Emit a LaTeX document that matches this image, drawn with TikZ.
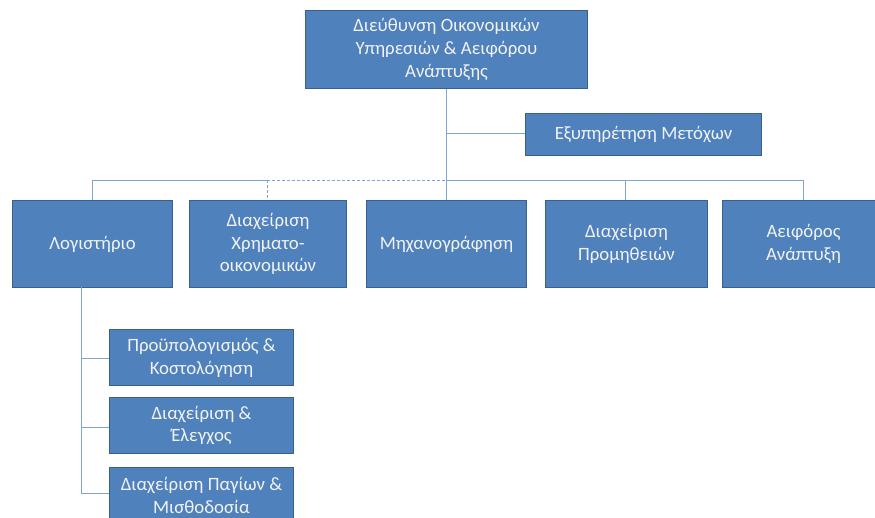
\documentclass[tikz,border=0pt]{standalone}
\usepackage{fontspec}
\setmainfont{Carlito}
\definecolor{boxfill}{HTML}{4F81BD}
\definecolor{boxline}{HTML}{3A5F8C}
\definecolor{conn}{HTML}{7FA5D5}
\definecolor{txt}{HTML}{F2F2F2}
\begin{document}
\begin{tikzpicture}[x=1pt,y=-1pt,
  orgbox/.style={draw=boxline,line width=1pt,fill=boxfill,text=txt,align=center,
    font=\fontsize{18.8}{22.8}\selectfont,inner sep=2pt,anchor=north west},
  link/.style={draw=conn,line width=1pt},
  dlink/.style={draw=conn,line width=1pt,dash pattern=on 3pt off 2pt}]
\useasboundingbox (0,0) rectangle (875,517);
\clip (0,0) rectangle (875,517);
% boxes
\node[orgbox,minimum width=282pt,minimum height=78pt] (top) at (305,10) {Διεύθυνση Οικονομικών\\Υπηρεσιών \& Αειφόρου\\Ανάπτυξης};
\node[orgbox,minimum width=236pt,minimum height=42pt] (ass) at (525,113) {Εξυπηρέτηση Μετόχων};
\node[orgbox,minimum width=160pt,minimum height=87pt] (b1) at (12,200) {Λογιστήριο};
\node[orgbox,minimum width=157pt,minimum height=87pt] (b2) at (189,200) {Διαχείριση\\Χρηματο-\\οικονομικών};
\node[orgbox,minimum width=160pt,minimum height=87pt] (b3) at (366,200) {Μηχανογράφηση};
\node[orgbox,minimum width=162pt,minimum height=87pt] (b4) at (545,200) {Διαχείριση\\Προμηθειών};
\node[orgbox,minimum width=162pt,minimum height=87pt] (b5) at (722,200) {Αειφόρος\\Ανάπτυξη};
\node[orgbox,minimum width=184pt,minimum height=56pt] (s1) at (109,329) {Προϋπολογισμός \&\\Κοστολόγηση};
\node[orgbox,minimum width=184pt,minimum height=56pt] (s2) at (109,397) {Διαχείριση \&\\Έλεγχος};
\node[orgbox,minimum width=184pt,minimum height=56pt] (s3) at (109,467) {Διαχείριση Παγίων \&\\Μισθοδοσία};
% coordinates
\coordinate (v) at (446,133);
\coordinate (bl) at (92,180);
\coordinate (bd) at (267,180);
\coordinate (bm) at (446,180);
\coordinate (bp) at (625,180);
\coordinate (br) at (803,180);
\coordinate (sv) at (81,287);
\coordinate (c1) at (81,358);
\coordinate (c2) at (81,427);
\coordinate (c3) at (81,493);
% connectors
\draw[link] (top.south -| v) -- (b3.north -| v);
\draw[link] (v) -- (ass.west |- v);
\draw[link] (bl) -- (bd);
\draw[dlink] (bd) -- (bm);
\draw[link] (bm) -- (br);
\draw[link] (bl) -- (b1.north -| bl);
\draw[dlink] (bd) -- (b2.north -| bd);
\draw[link] (bp) -- (b4.north -| bp);
\draw[link] (br) -- (b5.north -| br);
\draw[link] (sv) -- (c3);
\draw[link] (c1) -- (s1.west |- c1);
\draw[link] (c2) -- (s2.west |- c2);
\draw[link] (c3) -- (s3.west |- c3);
\end{tikzpicture}
\end{document}
